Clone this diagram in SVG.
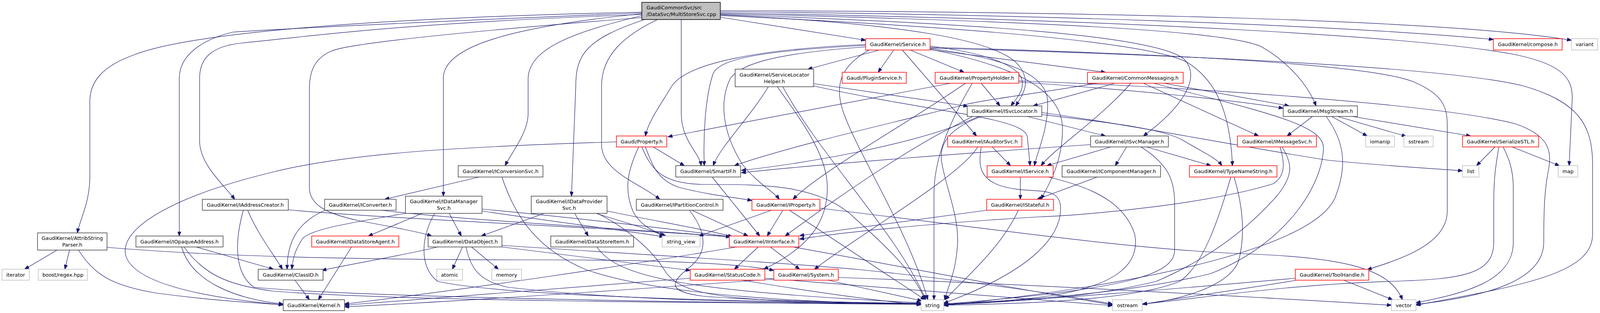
<svg xmlns="http://www.w3.org/2000/svg" width="4336" height="801" viewBox="0 0 4336 801">
<style>
rect{stroke-width:1.5}
.k rect{fill:#fff;stroke:#404040}
.r rect{fill:#fff;stroke:#ff0000}
.g rect{fill:#fff;stroke:#bfbfbf}
.m rect{fill:#bfbfbf;stroke:#000}
text{font-family:"DejaVu Sans","Liberation Sans",sans-serif;font-size:12.9px;fill:#000;text-anchor:middle}
.m text{text-anchor:start}
.e path{fill:none;stroke:#191970;stroke-width:1.2;marker-end:url(#a)}
</style>
<defs>
<marker id="a" viewBox="0 0 12 9" refX="11.5" refY="4.5" markerWidth="12" markerHeight="9" markerUnits="userSpaceOnUse" orient="auto"><path d="M0,0 L12,4.5 L0,9 z" fill="#191970" stroke="#191970" stroke-width="1"/></marker>
</defs>
<rect x="0" y="0" width="4336" height="801" fill="#fff" stroke="none"/>
<g id="edges" class="e">
<path d="M1844,44 L2216,103"/>
<path d="M1844,30 C2600,36 3400,62 3823,101"/>
<path d="M1844,27 C2800,30 3700,50 4023,103"/>
<path d="M1844,33 C2900,50 3650,95 3880,140 C4000,165 4025,200 4025,250 L4017,424"/>
<path d="M1844,35 C2700,55 3150,80 3230,120 C3300,160 3350,220 3369,271"/>
<path d="M1844,37 C2500,60 2950,90 3030,150 C3080,200 3020,280 2927,348"/>
<path d="M1844,40 C2500,70 2950,110 3040,160 C3120,210 3150,300 3155,424"/>
<path d="M1844,38 C2300,60 2560,100 2610,170 C2640,210 2620,240 2600,271"/>
<path d="M1744,50 L1744,290 C1744,360 1790,390 1795,424"/>
<path d="M1683,50 C1600,90 1540,140 1540,220 L1540,370 C1540,440 1640,470 1689,510"/>
<path d="M1650,50 C1500,100 1474,140 1474,220 L1463,502"/>
<path d="M1643,40 C1480,80 1355,120 1352,200 L1352,290 C1352,340 1310,390 1293,424"/>
<path d="M1643,35 C1300,70 1135,120 1135,200 L1135,502"/>
<path d="M1643,37 C1000,60 780,95 620,110 C540,118 511,150 511,200 L511,360 C511,420 570,470 601,510"/>
<path d="M1643,33 C1100,55 700,75 597,82 C520,100 459,140 459,200 L459,604"/>
<path d="M1643,31 C1000,45 500,80 344,140 C260,170 230,210 230,260 L230,450 C230,520 205,560 198,596"/>
<path d="M1643,45 C1200,80 900,110 850,130 C800,150 792,190 792,230 L792,480 C792,530 850,550 920,565 C1000,580 1080,595 1105,604"/>
<path d="M2216,114 C1950,125 1760,160 1720,220 C1690,270 1660,310 1652,348"/>
<path d="M2216,116 C1950,130 1840,150 1825,190 C1805,250 1800,350 1803,424"/>
<path d="M2216,120 C2000,135 1900,160 1870,200 C1840,260 1850,340 1900,420 C1940,470 1980,490 1995,510"/>
<path d="M2251,128 L2068,177"/>
<path d="M2288,128 L2248,185"/>
<path d="M2310,128 L2500,348"/>
<path d="M2330,128 L2468,185"/>
<path d="M2225,128 C2150,170 2135,220 2160,290 C2200,400 2330,600 2375,767"/>
<path d="M2381,118 C2520,135 2600,165 2615,200 C2625,230 2600,255 2588,271"/>
<path d="M2381,124 C2580,150 2680,190 2682,260 C2684,330 2655,390 2648,424"/>
<path d="M2381,126 C2600,170 2720,230 2720,330 C2720,420 2680,480 2665,510"/>
<path d="M2381,127 L2830,185"/>
<path d="M2381,121 C2900,135 3500,160 3620,210 C3690,240 3705,270 3705,320 L3705,540 C3705,620 3600,660 3500,690"/>
<path d="M2381,123 C3000,140 3700,170 3900,220 C4040,260 4077,320 4077,420 L4077,600 C4077,700 3900,730 3625,781"/>
<path d="M1967,222 C1920,300 1840,380 1826,424"/>
<path d="M2083,214 L2478,272"/>
<path d="M2083,220 C2400,290 2620,300 2630,350 L2637,424"/>
<path d="M1990,222 C2060,320 2118,400 2118,480 C2118,560 2080,630 1955,689"/>
<path d="M2004,222 C2100,400 2300,600 2370,767"/>
<path d="M2434,213 L1710,350"/>
<path d="M2472,213 C2300,330 2100,440 2030,510"/>
<path d="M2489,213 C2420,330 2390,420 2391,500 L2391,767"/>
<path d="M2512,213 L2560,271"/>
<path d="M2608,210 C2900,230 3150,255 3285,277"/>
<path d="M2608,207 C3100,225 3700,270 3880,317 C3960,345 3973,380 3965,430 C3955,480 3952,520 3952,620 C3952,720 3800,760 3625,779"/>
<path d="M2855,213 L2645,271"/>
<path d="M2809,213 C2650,240 2520,255 2470,268 C2300,310 2000,380 1880,424"/>
<path d="M2895,213 C2820,300 2700,380 2665,424"/>
<path d="M2927,213 L3222,348"/>
<path d="M2979,213 L3300,271"/>
<path d="M2953,213 C3250,290 3390,320 3388,380 C3385,470 3300,620 3100,700 C2900,750 2600,770 2416,778"/>
<path d="M3360,298 L3295,348"/>
<path d="M3409,298 L3500,348"/>
<path d="M3424,298 L3600,349"/>
<path d="M3461,298 L3765,348"/>
<path d="M3395,298 C3440,360 3450,420 3420,500 C3380,620 3000,720 2416,782"/>
<path d="M2490,298 L2400,345 C2300,400 2150,500 2010,604"/>
<path d="M2506,298 C2350,370 2050,420 1898,436"/>
<path d="M2512,298 C2440,325 2405,360 2410,410 C2420,480 2460,560 2450,640 C2445,700 2425,740 2418,767"/>
<path d="M2630,298 L2830,348"/>
<path d="M2667,288 C2900,320 3200,380 3400,410 C3550,425 3650,430 3744,437"/>
<path d="M2667,293 C2850,315 2980,330 3030,360 C3080,390 3115,405 3128,424"/>
<path d="M1578,363 C1200,375 900,390 700,440 C450,500 310,580 321,650 C335,720 500,760 725,780"/>
<path d="M1672,376 L1752,424"/>
<path d="M1652,376 C1670,420 1680,460 1740,480 C1820,500 1880,505 1925,513"/>
<path d="M1635,376 C1610,430 1595,480 1620,540 C1640,580 1680,595 1705,604"/>
<path d="M1643,376 C1670,440 1700,470 1800,472 C1950,472 2100,470 2190,560 C2280,640 2340,700 2368,767"/>
<path d="M2540,376 L2587,424"/>
<path d="M2503,376 C2460,450 2200,600 2085,689"/>
<path d="M2512,376 C2505,420 2505,455 2560,475 C2640,500 2712,470 2715,530 C2718,600 2650,690 2416,776"/>
<path d="M2792,370 C2500,390 2100,420 1898,442"/>
<path d="M2844,376 L2680,424"/>
<path d="M2884,376 L2855,424"/>
<path d="M2921,376 C2990,420 3007,460 3007,520 L3007,640 C3007,700 2900,740 2416,778"/>
<path d="M2935,376 L3100,424"/>
<path d="M3277,376 C3290,420 3290,450 3260,470 C3100,520 2800,550 2660,555 C2400,570 2150,595 2047,612"/>
<path d="M3282,376 C3310,420 3310,450 3270,500 C3200,580 3100,660 2960,720 C2800,760 2600,772 2416,780"/>
<path d="M3827,376 L3780,424"/>
<path d="M3837,376 C3830,420 3824,450 3824,520 L3824,620 C3824,700 3750,715 3560,720 C3300,728 3100,760 2925,778"/>
<path d="M3848,376 C3860,400 3874,430 3874,480 L3874,620 C3874,720 3750,750 3625,775"/>
<path d="M3871,376 L3992,424"/>
<path d="M1227,453 L985,510"/>
<path d="M1285,453 C1320,560 1380,640 1500,690 C1700,760 2100,775 2358,778"/>
<path d="M1823,453 L1945,604"/>
<path d="M2612,453 L2612,510"/>
<path d="M2683,453 C2800,480 2880,520 2905,600 C2920,680 2850,730 2700,755 C2600,770 2500,776 2416,779"/>
<path d="M2809,453 L2655,510"/>
<path d="M3151,453 C3120,560 3080,680 3020,720 C2900,770 2600,778 2416,781"/>
<path d="M3159,453 C3180,520 3190,600 3170,670 C3140,740 3000,770 2925,778"/>
<path d="M634,538 C660,600 700,650 723,689"/>
<path d="M738,537 C1000,560 1500,580 1870,606"/>
<path d="M623,538 C600,620 600,700 650,735 C900,760 1800,775 2358,779"/>
<path d="M832,538 C760,570 735,620 735,689"/>
<path d="M975,538 C1200,565 1600,585 1870,606"/>
<path d="M1081,546 L943,604"/>
<path d="M1150,546 L1181,604"/>
<path d="M1038,546 C900,570 800,585 775,610 C755,640 750,660 747,689"/>
<path d="M1113,546 C1080,600 1070,680 1120,720 C1300,760 2000,775 2358,776"/>
<path d="M1234,535 C1500,560 1750,590 1870,606"/>
<path d="M1234,540 C1400,565 1600,590 1700,606"/>
<path d="M1393,546 L1232,604"/>
<path d="M1471,546 L1506,604"/>
<path d="M1526,546 C1600,570 1660,585 1700,604"/>
<path d="M1554,540 C1700,570 1820,590 1875,606"/>
<path d="M1529,546 C1600,580 1670,640 1700,690 C1730,740 1800,760 2000,770 L2358,777"/>
<path d="M900,632 L815,767"/>
<path d="M1771,538 L1915,604"/>
<path d="M1765,538 C1805,590 1815,640 1770,680 C1720,720 1700,745 1800,758 C1950,770 2200,775 2358,777"/>
<path d="M1975,538 L1789,604"/>
<path d="M2004,538 L1964,604"/>
<path d="M2021,538 L2368,767"/>
<path d="M2099,533 C2500,580 2900,640 3200,650 C3450,660 3560,690 3590,767"/>
<path d="M2526,538 L2047,603"/>
<path d="M2607,538 C2560,640 2460,720 2420,767"/>
<path d="M146,640 L63,689"/>
<path d="M178,640 L166,689"/>
<path d="M201,640 C240,700 280,730 400,750 C550,770 650,775 725,780"/>
<path d="M274,633 C600,660 1000,665 1400,665 C1700,665 1900,675 1981,692"/>
<path d="M502,632 L700,689"/>
<path d="M465,632 C490,720 600,765 725,778"/>
<path d="M471,632 C520,700 580,730 700,745 C1000,770 1800,775 2358,778"/>
<path d="M1121,632 C1000,660 900,675 824,692"/>
<path d="M1184,632 L1158,689"/>
<path d="M1207,632 L1276,689"/>
<path d="M1193,632 C1205,690 1230,720 1300,735 C1600,770 2000,776 2358,777"/>
<path d="M1285,632 L1767,692"/>
<path d="M1285,628 C1700,655 2000,672 2200,690 C2500,720 2750,760 2848,778"/>
<path d="M1886,632 C1600,680 1200,740 882,778"/>
<path d="M1941,632 L1880,689"/>
<path d="M1972,632 L2047,689"/>
<path d="M2030,632 C2300,680 2600,740 2848,780"/>
<path d="M1767,712 C1400,740 1100,765 882,781"/>
<path d="M1958,712 C2300,740 2600,765 2848,782"/>
<path d="M1900,717 C2100,750 2250,770 2358,780"/>
<path d="M1981,714 C1500,750 1100,775 882,785"/>
<path d="M2119,717 L2360,770"/>
<path d="M2146,710 C2700,730 3200,760 3562,781"/>
<path d="M755,717 L792,767"/>
<path d="M1528,632 C1580,710 1750,745 2358,775"/>
<path d="M3316,712 C3000,740 2700,765 2416,780"/>
<path d="M3320,717 C3150,745 3000,765 2925,779"/>
<path d="M3440,717 L3565,767"/>
</g>
<g id="n_main" class="m"><rect x="1643" y="6" width="201" height="44"/><text x="1655" y="24">GaudiCommonSvc/src</text><text x="1655" y="41">/DataSvc/MultiStoreSvc.cpp</text></g>
<g id="n_service" class="r"><rect x="2216" y="99" width="165" height="29"/><text x="2298.5" y="118">GaudiKernel/Service.h</text></g>
<g id="n_compose" class="r"><rect x="3823" y="99" width="176" height="29"/><text x="3911" y="118">GaudiKernel/compose.h</text></g>
<g id="n_variant" class="g"><rect x="4023" y="99" width="67" height="29"/><text x="4056.5" y="118">variant</text></g>
<g id="n_slh" class="k"><rect x="1882" y="177" width="201" height="45"/><text x="1982.5" y="195.5">GaudiKernel/ServiceLocator</text><text x="1982.5" y="212.5">Helper.h</text></g>
<g id="n_plugin" class="r"><rect x="2156" y="185" width="164" height="28"/><text x="2238" y="203.5">Gaudi/PluginService.h</text></g>
<g id="n_propholder" class="r"><rect x="2394" y="185" width="214" height="28"/><text x="2501" y="203.5">GaudiKernel/PropertyHolder.h</text></g>
<g id="n_commonmsg" class="r"><rect x="2784" y="185" width="245" height="28"/><text x="2906.5" y="203.5">GaudiKernel/CommonMessaging.h</text></g>
<g id="n_isvclocator" class="k"><rect x="2476" y="271" width="191" height="27"/><text x="2571.5" y="289">GaudiKernel/ISvcLocator.h</text></g>
<g id="n_msgstream" class="k"><rect x="3285" y="271" width="190" height="27"/><text x="3380" y="289">GaudiKernel/MsgStream.h</text></g>
<g id="n_property" class="r"><rect x="1578" y="348" width="129" height="28"/><text x="1642.5" y="366.5">Gaudi/Property.h</text></g>
<g id="n_iauditorsvc" class="r"><rect x="2426" y="348" width="190" height="28"/><text x="2521" y="366.5">GaudiKernel/IAuditorSvc.h</text></g>
<g id="n_isvcmanager" class="k"><rect x="2792" y="348" width="199" height="28"/><text x="2891.5" y="366.5">GaudiKernel/ISvcManager.h</text></g>
<g id="n_imessagesvc" class="r"><rect x="3168" y="348" width="202" height="28"/><text x="3269" y="366.5">GaudiKernel/IMessageSvc.h</text></g>
<g id="n_iomanip" class="g"><rect x="3496" y="348" width="74" height="28"/><text x="3533" y="366.5">iomanip</text></g>
<g id="n_sstream" class="g"><rect x="3594" y="348" width="75" height="28"/><text x="3631.5" y="366.5">sstream</text></g>
<g id="n_serializestl" class="r"><rect x="3744" y="348" width="195" height="28"/><text x="3841.5" y="366.5">GaudiKernel/SerializeSTL.h</text></g>
<g id="n_iconversionsvc" class="k"><rect x="1173" y="424" width="217" height="29"/><text x="1281.5" y="443">GaudiKernel/IConversionSvc.h</text></g>
<g id="n_smartif" class="k"><rect x="1730" y="424" width="166" height="29"/><text x="1813" y="443">GaudiKernel/SmartIF.h</text></g>
<g id="n_iservice" class="r"><rect x="2527" y="424" width="169" height="29"/><text x="2611.5" y="443">GaudiKernel/IService.h</text></g>
<g id="n_icomponentmanager" class="k"><rect x="2719" y="424" width="252" height="29"/><text x="2845" y="443">GaudiKernel/IComponentManager.h</text></g>
<g id="n_typenamestring" class="r"><rect x="3045" y="424" width="224" height="29"/><text x="3157" y="443">GaudiKernel/TypeNameString.h</text></g>
<g id="n_list" class="g"><rect x="3744" y="424" width="42" height="29"/><text x="3765" y="443">list</text></g>
<g id="n_map" class="g"><rect x="3989" y="424" width="50" height="29"/><text x="4014" y="443">map</text></g>
<g id="n_iaddresscreator" class="k"><rect x="518" y="510" width="220" height="28"/><text x="628" y="528.5">GaudiKernel/IAddressCreator.h</text></g>
<g id="n_iconverter" class="k"><rect x="831" y="510" width="183" height="28"/><text x="922.5" y="528.5">GaudiKernel/IConverter.h</text></g>
<g id="n_idatamanagersvc" class="k"><rect x="1038" y="502" width="196" height="44"/><text x="1136" y="520">GaudiKernel/IDataManager</text><text x="1136" y="537">Svc.h</text></g>
<g id="n_idataprovidersvc" class="k"><rect x="1360" y="502" width="194" height="44"/><text x="1457" y="520">GaudiKernel/IDataProvider</text><text x="1457" y="537">Svc.h</text></g>
<g id="n_ipartitioncontrol" class="k"><rect x="1629" y="510" width="222" height="28"/><text x="1740" y="528.5">GaudiKernel/IPartitionControl.h</text></g>
<g id="n_iproperty" class="r"><rect x="1925" y="510" width="174" height="28"/><text x="2012" y="528.5">GaudiKernel/IProperty.h</text></g>
<g id="n_istateful" class="r"><rect x="2526" y="510" width="171" height="28"/><text x="2611.5" y="528.5">GaudiKernel/IStateful.h</text></g>
<g id="n_attribstringparser" class="k"><rect x="96" y="596" width="178" height="44"/><text x="185" y="614">GaudiKernel/AttribString</text><text x="185" y="631">Parser.h</text></g>
<g id="n_iopaqueaddress" class="k"><rect x="348" y="604" width="223" height="28"/><text x="459.5" y="622.5">GaudiKernel/IOpaqueAddress.h</text></g>
<g id="n_idatastoreagent" class="r"><rect x="798" y="604" width="223" height="28"/><text x="909.5" y="622.5">GaudiKernel/IDataStoreAgent.h</text></g>
<g id="n_dataobject" class="k"><rect x="1096" y="604" width="189" height="28"/><text x="1190.5" y="622.5">GaudiKernel/DataObject.h</text></g>
<g id="n_datastoreitem" class="k"><rect x="1410" y="604" width="212" height="28"/><text x="1516" y="622.5">GaudiKernel/DataStoreItem.h</text></g>
<g id="n_string_view" class="g"><rect x="1695" y="604" width="97" height="28"/><text x="1743.5" y="622.5">string_view</text></g>
<g id="n_iinterface" class="r"><rect x="1867" y="604" width="178" height="28"/><text x="1956" y="622.5">GaudiKernel/IInterface.h</text></g>
<g id="n_iterator" class="g"><rect x="5" y="689" width="70" height="28"/><text x="40" y="707.5">iterator</text></g>
<g id="n_boostregex" class="g"><rect x="98" y="689" width="126" height="28"/><text x="161" y="707.5">boost/regex.hpp</text></g>
<g id="n_classid" class="k"><rect x="661" y="689" width="166" height="28"/><text x="744" y="707.5">GaudiKernel/ClassID.h</text></g>
<g id="n_atomic" class="g"><rect x="1118" y="689" width="66" height="28"/><text x="1151" y="707.5">atomic</text></g>
<g id="n_memory" class="g"><rect x="1259" y="689" width="76" height="28"/><text x="1297" y="707.5">memory</text></g>
<g id="n_statuscode" class="r"><rect x="1767" y="689" width="191" height="28"/><text x="1862.5" y="707.5">GaudiKernel/StatusCode.h</text></g>
<g id="n_system" class="r"><rect x="1981" y="689" width="165" height="28"/><text x="2063.5" y="707.5">GaudiKernel/System.h</text></g>
<g id="n_toolhandle" class="r"><rect x="3316" y="689" width="188" height="28"/><text x="3410" y="707.5">GaudiKernel/ToolHandle.h</text></g>
<g id="n_kernel" class="k"><rect x="725" y="767" width="157" height="28"/><text x="803.5" y="785.5">GaudiKernel/Kernel.h</text></g>
<g id="n_string" class="g"><rect x="2358" y="767" width="58" height="28"/><text x="2387" y="785.5">string</text></g>
<g id="n_ostream" class="g"><rect x="2848" y="767" width="76" height="28"/><text x="2886" y="785.5">ostream</text></g>
<g id="n_vector" class="g"><rect x="3562" y="767" width="63" height="28"/><text x="3593.5" y="785.5">vector</text></g>
</svg>
